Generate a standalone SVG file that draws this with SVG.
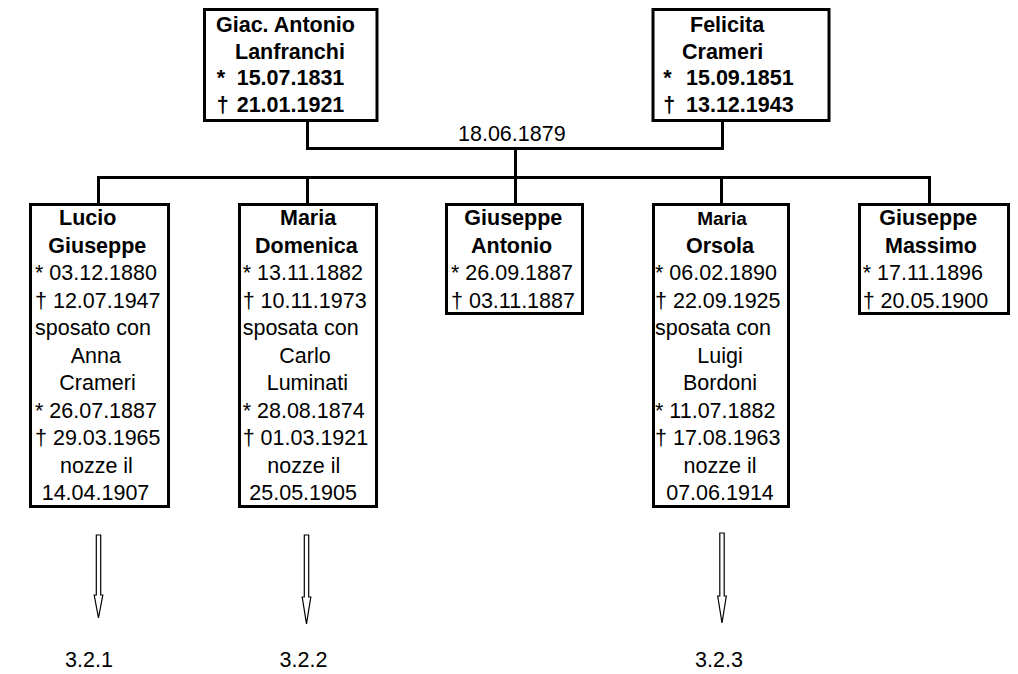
<svg xmlns="http://www.w3.org/2000/svg" width="1018" height="674" viewBox="0 0 1018 674">
  <style>
    .box { fill: #fff; stroke: #000; stroke-width: 3; }
    .wire { fill: none; stroke: #000; stroke-width: 3; }
    .arrow { fill: #fff; stroke: #000; stroke-width: 1.2; stroke-linejoin: miter; }
    text { font-family: "Liberation Sans", Arial, sans-serif; font-size: 21.5px; fill: #000; }
    .b { font-weight: bold; }
    .sm { font-size: 19px; }
    .mid { text-anchor: middle; }
  </style>
  <rect width="1018" height="674" fill="#fff"/>

  <!-- connectors -->
  <g id="connectors">
    <path class="wire" d="M307.5 121 V148.5 H722.5 V121"/>
    <path class="wire" d="M515.5 148.5 V177.5"/>
    <path class="wire" d="M98.5 203 V177.5 H929.5 V203"/>
    <path class="wire" d="M307.5 177.5 V203"/>
    <path class="wire" d="M515.5 177.5 V203"/>
    <path class="wire" d="M721.5 177.5 V203"/>
    <text x="458" y="141">18.06.1879</text>
  </g>

  <!-- parents -->
  <g id="giac-antonio">
    <rect class="box" x="204.5" y="9.5" width="172.5" height="111"/>
    <text class="b" x="216" y="32">Giac. Antonio</text>
    <text class="b" x="235" y="58.7">Lanfranchi</text>
    <text class="b" x="216.7" y="85.4">*<tspan x="236.7">15.07.1831</tspan></text>
    <text class="b" x="216.7" y="112">†<tspan x="236.7">21.01.1921</tspan></text>
  </g>
  <g id="felicita">
    <rect class="box" x="653" y="9.5" width="176" height="111"/>
    <text class="b" x="690" y="32">Felicita</text>
    <text class="b" x="682" y="58.7">Crameri</text>
    <text class="b" x="663.3" y="85.4">*<tspan x="686">15.09.1851</tspan></text>
    <text class="b" x="663.3" y="112">†<tspan x="686">13.12.1943</tspan></text>
  </g>

  <!-- children -->
  <g id="lucio">
    <rect class="box" x="30.5" y="204.5" width="138" height="302"/>
    <text class="b" x="59" y="225">Lucio</text>
    <text class="b" x="48.3" y="252.5">Giuseppe</text>
    <text x="35" y="280">* 03.12.1880</text>
    <text x="35" y="307.5">† 12.07.1947</text>
    <text x="35" y="335">sposato con</text>
    <text x="70.7" y="362.5">Anna</text>
    <text x="59.3" y="390">Crameri</text>
    <text x="35" y="417.5">* 26.07.1887</text>
    <text x="35" y="445">† 29.03.1965</text>
    <text x="60" y="472.5">nozze il</text>
    <text x="41.7" y="500">14.04.1907</text>
  </g>
  <g id="maria-domenica">
    <rect class="box" x="239.5" y="204.5" width="137" height="302"/>
    <text class="b" x="280" y="225">Maria</text>
    <text class="b" x="255" y="252.5">Domenica</text>
    <text x="242.7" y="280">* 13.11.1882</text>
    <text x="242.7" y="307.5">† 10.11.1973</text>
    <text x="242.7" y="335">sposata con</text>
    <text x="279.3" y="362.5">Carlo</text>
    <text x="266.7" y="390">Luminati</text>
    <text x="242.7" y="417.5">* 28.08.1874</text>
    <text x="242.7" y="445">† 01.03.1921</text>
    <text x="267.3" y="472.5">nozze il</text>
    <text x="249.3" y="500">25.05.1905</text>
  </g>
  <g id="giuseppe-antonio">
    <rect class="box" x="446.5" y="204.5" width="136" height="109"/>
    <text class="b" x="464.3" y="225">Giuseppe</text>
    <text class="b" x="471" y="252.5">Antonio</text>
    <text x="451" y="280">* 26.09.1887</text>
    <text x="451" y="307.5">† 03.11.1887</text>
  </g>
  <g id="maria-orsola">
    <rect class="box" x="653.5" y="204.5" width="135" height="302"/>
    <text class="b sm mid" x="722" y="225">Maria</text>
    <text class="b mid" x="720" y="252.5">Orsola</text>
    <text x="655" y="280">* 06.02.1890</text>
    <text x="655" y="307.5">† 22.09.1925</text>
    <text x="655" y="335">sposata con</text>
    <text class="mid" x="720" y="362.5">Luigi</text>
    <text class="mid" x="720" y="390">Bordoni</text>
    <text x="655" y="417.5">* 11.07.1882</text>
    <text x="655" y="445">† 17.08.1963</text>
    <text class="mid" x="720" y="472.5">nozze il</text>
    <text class="mid" x="720" y="500">07.06.1914</text>
  </g>
  <g id="giuseppe-massimo">
    <rect class="box" x="859.5" y="204.5" width="149" height="109"/>
    <text class="b" x="879.3" y="225">Giuseppe</text>
    <text class="b" x="885" y="252.5">Massimo</text>
    <text x="862.7" y="280">* 17.11.1896</text>
    <text x="862.7" y="307.5">† 20.05.1900</text>
  </g>

  <!-- continuation arrows -->
  <g id="ref-3-2-1">
    <polygon class="arrow" points="96.3,535 100.7,535 100.7,595 102.8,595 98.5,618 94.2,595 96.3,595"/>
    <text class="mid" x="89" y="667">3.2.1</text>
  </g>
  <g id="ref-3-2-2">
    <polygon class="arrow" points="304.3,535 308.7,535 308.7,597 310.8,597 306.5,624 302.2,597 304.3,597"/>
    <text class="mid" x="303.5" y="667">3.2.2</text>
  </g>
  <g id="ref-3-2-3">
    <polygon class="arrow" points="719.8,533 724.2,533 724.2,596 726.3,596 722,623 717.7,596 719.8,596"/>
    <text class="mid" x="719" y="667">3.2.3</text>
  </g>
</svg>
